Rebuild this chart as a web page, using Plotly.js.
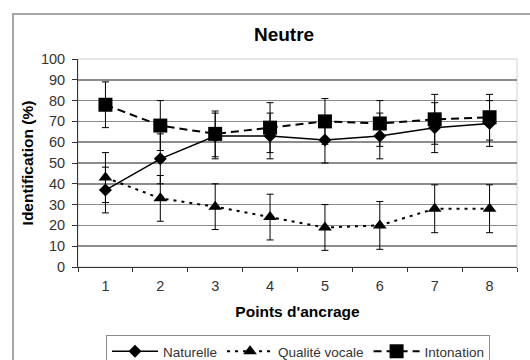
<!DOCTYPE html>
<html>
<head>
<meta charset="utf-8">
<script src="https://cdn.plot.ly/plotly-3.0.1.min.js"></script>
<style>
  html, body { margin: 0; padding: 0; background: #fff; }
  #wrap { position: relative; width: 530px; height: 360px; overflow: hidden; }
  #chart { position: absolute; left: 0; top: 0; width: 530px; height: 390px; }
  #frame { position: absolute; left: 12px; top: 13px; width: 540px; height: 380px;
           border: 2px solid #a6a6a6; pointer-events: none; }
</style>
</head>
<body>
<div id="wrap">
  <div id="chart"></div>
  <div id="frame"></div>
</div>
<script>
const categories = ['1', '2', '3', '4', '5', '6', '7', '8'];

const naturelle = [37, 52, 63, 63, 61, 63, 67, 69];
const naturelleErr = [11, 12, 11, 11, 11, 11, 12, 11];

const qualiteVocale = [43, 33, 29, 24, 19, 20, 28, 28];
const qualiteVocaleErr = [12, 11, 11, 11, 11, 11.5, 11.5, 11.5];

const intonation = [78, 68, 64, 67, 70, 69, 71, 72];
const intonationErr = [11, 12, 11, 12, 11, 11, 12, 11];

const yTicks = [0, 10, 20, 30, 40, 50, 60, 70, 80, 90, 100];

function errBar(arr) {
  return { type: 'data', array: arr, visible: true, color: '#000', thickness: 1, width: 3.5 };
}

const traces = [
  {
    x: categories, y: naturelle, name: 'Naturelle', type: 'scatter', mode: 'lines+markers',
    line: { color: '#000', width: 1.5 },
    marker: { symbol: 'diamond', size: 10, color: '#000' },
    error_y: errBar(naturelleErr)
  },
  {
    x: categories, y: qualiteVocale, name: 'Qualité vocale', type: 'scatter', mode: 'lines+markers',
    line: { color: '#000', width: 2, dash: '3px,5px' },
    marker: { symbol: 'triangle-up', size: 12, color: '#000' },
    error_y: errBar(qualiteVocaleErr)
  },
  {
    x: categories, y: intonation, name: 'Intonation', type: 'scatter', mode: 'lines+markers',
    line: { color: '#000', width: 2, dash: '8px,5px' },
    marker: { symbol: 'square', size: 14, color: '#000' },
    error_y: errBar(intonationErr)
  }
];

const layout = {
  width: 530, height: 390,
  margin: { l: 78, r: 13, t: 59, b: 123 },
  paper_bgcolor: 'rgba(0,0,0,0)',
  plot_bgcolor: '#fff',
  font: { family: 'Liberation Sans, Arial, sans-serif', color: '#333', size: 14 },
  title: {
    text: '<b>Neutre</b>', font: { size: 19, color: '#000' },
    x: 284 / 530, xref: 'container', xanchor: 'center', y: 1 - 34 / 390, yref: 'container', yanchor: 'middle'
  },
  showlegend: true,
  legend: {
    orientation: 'h', x: 298 / 530, xref: 'container', xanchor: 'center',
    y: 1 - 335 / 390, yref: 'container', yanchor: 'top',
    bordercolor: '#8c8c8c', borderwidth: 1, bgcolor: '#fff',
    font: { size: 13.5, color: '#333' }, itemwidth: 46, tracegroupgap: 0
  },
  xaxis: {
    type: 'category', range: [-0.5, 7.5], tickson: 'boundaries',
    ticks: 'outside', ticklen: 4, tickcolor: '#333', tickwidth: 1,
    showline: true, linecolor: '#333', linewidth: 1,
    showgrid: false, zeroline: false, ticklabelstandoff: 6,
    tickfont: { size: 14.5, color: '#333' },
    title: { text: '<b>Points d\'ancrage</b>', font: { size: 15.5, color: '#000' }, standoff: 12 }
  },
  yaxis: {
    range: [0, 100], tickvals: yTicks, ticktext: yTicks.map(String),
    ticks: 'outside', ticklen: 5, tickcolor: '#333', tickwidth: 1,
    showline: true, linecolor: '#333', linewidth: 1, ticklabelstandoff: 4,
    showgrid: true, gridcolor: '#8c8c8c', gridwidth: 1.5, zeroline: false,
    tickfont: { size: 14.5, color: '#333' },
    title: { text: '<b>Identification (%)</b>', font: { size: 15.5, color: '#000' }, standoff: 3 }
  },
  shapes: [
    { type: 'rect', xref: 'paper', yref: 'paper', x0: 0, x1: 1, y0: 0, y1: 1,
      line: { color: '#d0d0d0', width: 1 }, layer: 'below' },
    { type: 'line', xref: 'paper', yref: 'y', x0: 0, x1: 1, y0: 100, y1: 100,
      line: { color: '#e0e0e0', width: 1 }, layer: 'below' }
  ]
};

Plotly.newPlot('chart', traces, layout, { displayModeBar: false, staticPlot: true });
</script>
</body>
</html>
